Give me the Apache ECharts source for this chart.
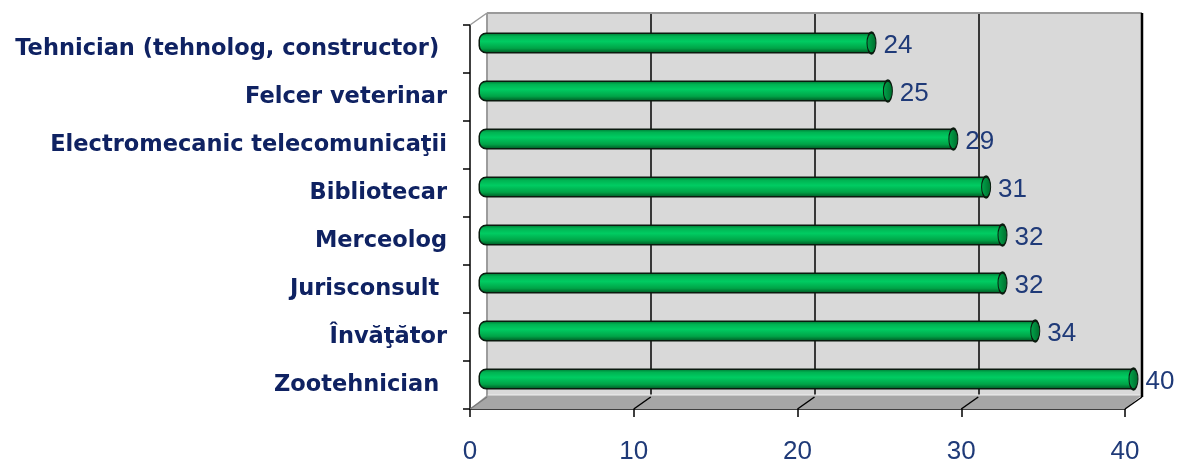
<!DOCTYPE html>
<html>
<head>
<meta charset="utf-8">
<script src="https://cdn.jsdelivr.net/npm/echarts@6/dist/echarts.min.js"></script>
<style>
  html, body { margin: 0; padding: 0; background: #fff; }
  #chart { width: 1180px; height: 459px; }
</style>
</head>
<body>
<div id="chart"></div>
<script>
// date
var categories = [
    'Tehnician (tehnolog, constructor) ',
    'Felcer veterinar',
    'Electromecanic telecomunicaţii',
    'Bibliotecar',
    'Merceolog',
    'Jurisconsult ',
    'Învăţător',
    'Zootehnician '
];
var values = [24, 25, 29, 31, 32, 32, 34, 40];
var xTicks = [0, 10, 20, 30, 40];

// geometria 3D (perete din spate decalat fata de planul din fata)
var front = { left: 470, right: 55, top: 25, bottom: 50 };
var depthX = 17, depthY = 12;

var dom = document.getElementById('chart');
var myChart = echarts.init(dom);

var barColor = new echarts.graphic.LinearGradient(0, 0, 0, 1, [
    { offset: 0, color: '#006b2e' },
    { offset: 0.18, color: '#00b352' },
    { offset: 0.42, color: '#00cc62' },
    { offset: 0.75, color: '#00a447' },
    { offset: 1, color: '#004f20' }
]);

var option = {
    backgroundColor: '#ffffff',
    animation: false,
    grid: [
        { // perete spate
            left: front.left + depthX, right: front.right - depthX,
            top: front.top - depthY, bottom: front.bottom + depthY,
            show: true, backgroundColor: '#d9d9d9', borderWidth: 0,
            containLabel: false, outerBoundsMode: 'none'
        },
        { // planul barelor
            left: front.left + depthX / 2, right: front.right - depthX / 2,
            top: front.top - depthY / 2, bottom: front.bottom + depthY / 2,
            containLabel: false, outerBoundsMode: 'none'
        },
        { // planul din fata
            left: front.left, right: front.right,
            top: front.top, bottom: front.bottom,
            containLabel: false, outerBoundsMode: 'none'
        }
    ],
    xAxis: [
        {
            gridIndex: 0, type: 'value', min: xTicks[0], max: xTicks[xTicks.length - 1], interval: 10,
            axisLine: { show: false }, axisTick: { show: false }, axisLabel: { show: false },
            splitLine: { show: true, lineStyle: { color: ['#8c8c8c', '#000', '#000', '#000', '#000'], width: 1.5 } }
        },
        {
            gridIndex: 1, type: 'value', min: xTicks[0], max: xTicks[xTicks.length - 1], interval: 10,
            show: false
        },
        {
            gridIndex: 2, type: 'value', min: xTicks[0], max: xTicks[xTicks.length - 1], interval: 10,
            axisLine: { show: true, lineStyle: { color: '#000', width: 1.5 } },
            axisTick: { show: true, length: 8, lineStyle: { color: '#000', width: 1.5 } },
            splitLine: { show: false },
            axisLabel: {
                margin: 30, color: '#1f3a78',
                fontFamily: 'Liberation Sans', fontSize: 26
            }
        }
    ],
    yAxis: [
        { gridIndex: 0, type: 'category', data: categories, inverse: true, show: false },
        { gridIndex: 1, type: 'category', data: categories, inverse: true, show: false },
        {
            gridIndex: 2, type: 'category', data: categories, inverse: true,
            axisLine: { show: true, lineStyle: { color: '#000', width: 1.5 } },
            axisTick: { show: true, length: 7, alignWithLabel: false, lineStyle: { color: '#000', width: 1.5 } },
            splitLine: { show: false },
            axisLabel: {
                margin: 23, color: '#0f2262',
                fontFamily: 'DejaVu Sans', fontWeight: 'bold', fontSize: 22.5
            }
        }
    ],
    series: [
        {
            name: 'bare',
            type: 'bar',
            xAxisIndex: 1, yAxisIndex: 1,
            data: values,
            barWidth: 21,
            z: 5,
            itemStyle: {
                color: barColor,
                borderColor: '#0a1a0e', borderWidth: 1.5,
                borderRadius: [7, 0, 0, 7]
            }
        },
        {
            // capacul cilindrului + eticheta
            name: 'capac',
            type: 'scatter',
            xAxisIndex: 1, yAxisIndex: 1,
            data: values.map(function (v, i) { return [v, categories[i]]; }),
            symbol: 'circle',
            symbolSize: [9, 21],
            z: 6,
            itemStyle: {
                color: new echarts.graphic.LinearGradient(0, 0, 1, 0, [
                    { offset: 0, color: '#00a84c' },
                    { offset: 1, color: '#006a2c' }
                ]),
                borderColor: '#0a1a0e', borderWidth: 1.5, opacity: 1
            },
            label: {
                show: true, position: 'right', distance: 7,
                formatter: function (p) { return p.value[0]; },
                color: '#1f3a78', fontFamily: 'Liberation Sans', fontSize: 26,
                offset: [0, 3]
            }
        }
    ]
};

myChart.setOption(option, true);

// podeaua si peretele lateral, calculate din axele din fata
var fx = function (v) { return myChart.convertToPixel({ xAxisIndex: 2 }, v); };
var yBottom = 459 - front.bottom, yTop = front.top;
var x0 = fx(xTicks[0]), x1 = fx(xTicks[xTicks.length - 1]);
var graphics = [
    {
        type: 'polygon', z: 1, silent: true,
        shape: { points: [[x0, yBottom], [x1, yBottom], [x1 + depthX, yBottom - depthY - 2], [x0 + depthX, yBottom - depthY - 2]] },
        style: { fill: '#a6a6a6', stroke: null }
    },
    {
        type: 'line', z: 2, silent: true,
        shape: { x1: x0 + depthX, y1: yBottom - depthY - 2, x2: x1 + depthX, y2: yBottom - depthY - 2 },
        style: { stroke: '#efefef', lineWidth: 1 }
    },
    {
        type: 'line', z: 2, silent: true,
        shape: { x1: x0 + depthX, y1: yTop - depthY, x2: x1 + depthX, y2: yTop - depthY },
        style: { stroke: '#9a9a9a', lineWidth: 2 }
    },
    {
        type: 'line', z: 2, silent: true,
        shape: { x1: x0, y1: yTop, x2: x0 + depthX, y2: yTop - depthY },
        style: { stroke: '#9a9a9a', lineWidth: 1.5 }
    },
    {
        type: 'line', z: 2, silent: true,
        shape: { x1: x0 + depthX, y1: yTop - depthY, x2: x0 + depthX, y2: yBottom - depthY },
        style: { stroke: '#9a9a9a', lineWidth: 1.5 }
    }
];
xTicks.forEach(function (t) {
    var x = fx(t);
    graphics.push({
        type: 'line', z: 3, silent: true,
        shape: { x1: x, y1: yBottom, x2: x + depthX, y2: yBottom - depthY },
        style: { stroke: t === xTicks[0] ? '#7a7a7a' : '#000', lineWidth: 1.5 }
    });
});
graphics.push({
    type: 'line', z: 3, silent: true,
    shape: { x1: x1 + depthX, y1: yTop - depthY, x2: x1 + depthX, y2: yBottom - depthY },
    style: { stroke: '#000', lineWidth: 2.5 }
});
myChart.setOption({ graphic: graphics });
</script>
</body>
</html>
